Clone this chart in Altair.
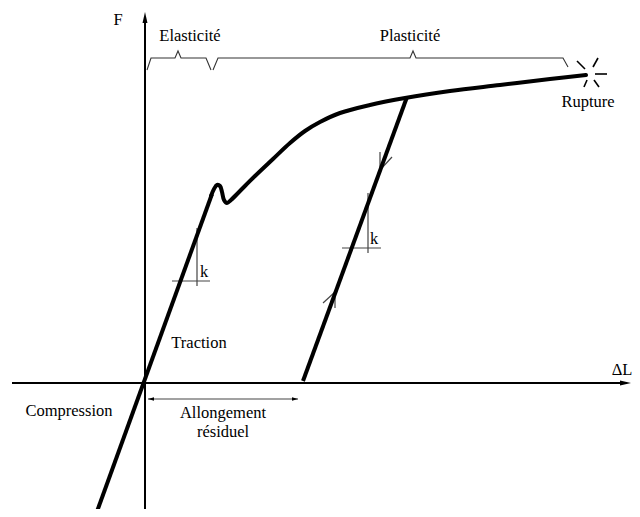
import altair as alt
import pandas as pd

# Diagram units: dL (horizontal) and F (vertical), origin at the axes crossing
load_dl = [-50, 67]
load_F = [-134, 189]

curve_dl = [66, 69, 72, 75, 77, 79, 82, 86, 95, 110, 128, 145, 160, 175, 195, 225, 260, 305, 355, 405, 441]
curve_F = [187, 194, 198, 197, 191, 183, 180, 183, 192, 207, 224, 240, 252, 261, 270, 278, 285, 292, 298, 304, 308]

unload_dl = [262, 158]
unload_F = [286, 2]

# thin construction segments: k triangles, arrow barbs, dimension line
thin_x = [27, 52, 197, 223, 235, 235, 190, 190, 3]
thin_y = [102, 97, 135, 130, 213, 213, 91, 91, -16]
thin_x2 = [65, 52, 236, 223, 235, 247, 190, 178, 153]
thin_y2 = [102, 155, 135, 190, 231, 226, 75, 80, -16]

# axes
axis_x = [-133, 0]
axis_y = [0, -134]
axis_x2 = [482, 0]
axis_y2 = [0, 366]

# rupture star
star_x = [432, 453, 450, 442, 449]
star_y = [322, 325, 309, 303, 303]
star_x2 = [440, 448, 462, 439, 454]
star_y2 = [314, 316, 309, 296, 296]

# braces
brace_id = ["e"] * 7 + ["p"] * 7
brace_dl = [2, 6, 30, 33, 36, 61, 66, 68, 73, 265, 268, 271, 418, 423]
brace_F = [313, 325, 325, 332, 325, 325, 313, 313, 325, 325, 332, 325, 325, 316]

# arrowheads
head_x = [0, 486, 3, 153]
head_y = [371, 0, -16, -16]
head_angle = [0, 90, 270, 90]
head_kind = ["axis", "axis", "dim", "dim"]

# labels
label_text = ["F", "Elasticité", "Plasticité", "Rupture", "Traction", "Compression",
              "Allongement", "résiduel", "ΔL", "k", "k"]
label_x = [-27, 45, 265, 443, 54, -76, 78, 78, 477, 59, 229]
label_y = [363, 347, 347, 281, 40, -28, -30, -49, 13, 111, 144]

W, H = 624, 501
xs = alt.Scale(domain=[-137, 487], nice=False, zero=False)
ys = alt.Scale(domain=[-126, 375], nice=False, zero=False)

def X(f):
    return alt.X(f, type="quantitative", scale=xs, axis=None)

def Y(f):
    return alt.Y(f, type="quantitative", scale=ys, axis=None)

seg = lambda xa, ya, xb, yb: pd.DataFrame({"x": xa, "y": ya, "x2": xb, "y2": yb})

axes = alt.Chart(seg(axis_x, axis_y, axis_x2, axis_y2)).mark_rule(
    color="black", strokeWidth=2).encode(x=X("x"), y=Y("y"), x2="x2", y2="y2")

thin = alt.Chart(seg(thin_x, thin_y, thin_x2, thin_y2)).mark_rule(
    color="#444", strokeWidth=1.2).encode(x=X("x"), y=Y("y"), x2="x2", y2="y2")

star = alt.Chart(seg(star_x, star_y, star_x2, star_y2)).mark_rule(
    color="black", strokeWidth=1.6).encode(x=X("x"), y=Y("y"), x2="x2", y2="y2")

load = alt.Chart(pd.DataFrame({"x": load_dl, "y": load_F})).mark_line(
    color="black", strokeWidth=4, clip=True).encode(x=X("x"), y=Y("y"))

curve_df = pd.DataFrame({"x": curve_dl, "y": curve_F, "o": range(len(curve_dl))})
curve = alt.Chart(curve_df).mark_line(
    color="black", strokeWidth=4, interpolate="catmull-rom", strokeCap="round").encode(
    x=X("x"), y=Y("y"), order="o:Q")

unload = alt.Chart(pd.DataFrame({"x": unload_dl, "y": unload_F})).mark_line(
    color="black", strokeWidth=4).encode(x=X("x"), y=Y("y"))

brace_df = pd.DataFrame({"x": brace_dl, "y": brace_F, "g": brace_id,
                         "o": range(len(brace_dl))})
braces = alt.Chart(brace_df).mark_line(color="#333", strokeWidth=1.1).encode(
    x=X("x"), y=Y("y"), detail="g:N", order="o:Q")

head_df = pd.DataFrame({"x": head_x, "y": head_y, "a": head_angle, "k": head_kind})
axis_heads = alt.Chart(head_df[head_df.k == "axis"]).mark_point(
    shape="M0,0L0.45,2L-0.45,2Z", filled=True, color="black", opacity=1, size=121,
    strokeWidth=0).encode(x=X("x"), y=Y("y"), angle=alt.Angle("a:Q", scale=None))
dim_heads = alt.Chart(head_df[head_df.k == "dim"]).mark_point(
    shape="M0,0L0.6,2L-0.6,2Z", filled=True, color="black", opacity=1, size=36,
    strokeWidth=0).encode(x=X("x"), y=Y("y"), angle=alt.Angle("a:Q", scale=None))

labels = alt.Chart(pd.DataFrame({"x": label_x, "y": label_y, "t": label_text})).mark_text(
    font="Liberation Serif", fontSize=16.5, color="black", baseline="middle", align="center").encode(
    x=X("x"), y=Y("y"), text="t:N")

chart = alt.layer(axes, thin, braces, star, load, curve, unload, axis_heads, dim_heads, labels).properties(
    width=W, height=H, padding=0, autosize=alt.AutoSizeParams(type="none")
).configure_view(stroke=None)

chart.save("out.html", embed_options={"renderer": "svg", "actions": False})
